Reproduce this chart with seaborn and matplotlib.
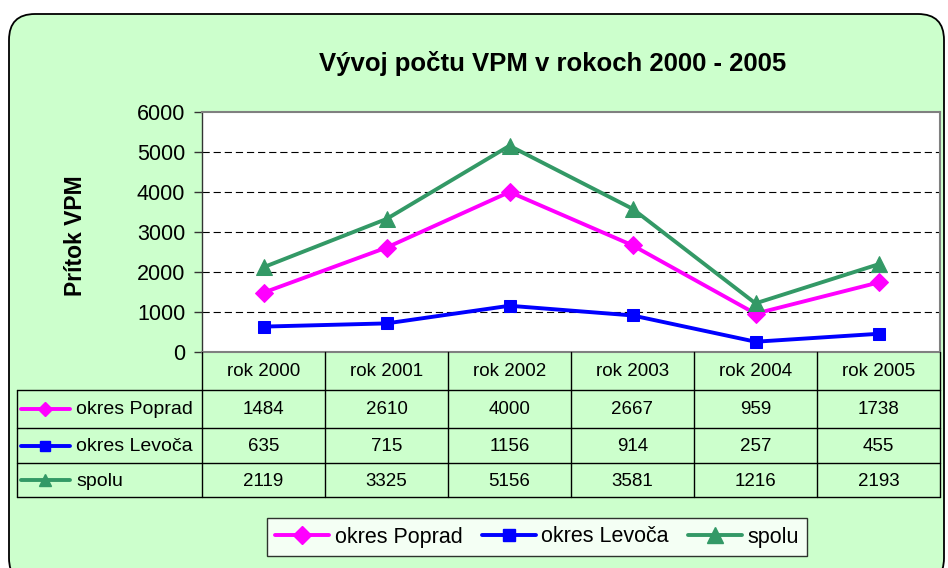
import numpy as np
import pandas as pd
import seaborn as sns
import matplotlib.pyplot as plt
from matplotlib.patches import FancyBboxPatch
from matplotlib.lines import Line2D

sns.set_style('white')
plt.rcParams['font.family'] = ['Liberation Sans', 'DejaVu Sans']
plt.rcParams['text.color'] = 'black'
plt.rcParams['ytick.color'] = 'black'

years = ['rok 2000', 'rok 2001', 'rok 2002', 'rok 2003', 'rok 2004', 'rok 2005']
series_names = ['okres Poprad', 'okres Levoča', 'spolu']
poprad = [1484, 2610, 4000, 2667, 959, 1738]
levoca = [635, 715, 1156, 914, 257, 455]
spolu = [2119, 3325, 5156, 3581, 1216, 2193]
y_ticks = [0, 1000, 2000, 3000, 4000, 5000, 6000]

colors = {'okres Poprad': '#FF00FF', 'okres Levoča': '#0000FF', 'spolu': '#339966'}
markers = {'okres Poprad': 'D', 'okres Levoča': 's', 'spolu': '^'}
msizes = {'okres Poprad': 9, 'okres Levoča': 8.5, 'spolu': 11}
bg = '#CCFFCC'

df = pd.DataFrame({
    'idx': list(range(len(years))) * 3,
    'value': poprad + levoca + spolu,
    'series': np.repeat(series_names, len(years)),
})

W, H = 948, 568
fig = plt.figure(figsize=(W / 100, H / 100), dpi=100)
fig.patch.set_facecolor('white')

# rounded green frame, pixel coords
frame_ax = fig.add_axes([0, 0, 1, 1], zorder=-5)
frame_ax.set_xlim(0, W)
frame_ax.set_ylim(H, 0)
frame_ax.axis('off')
frame_ax.add_patch(FancyBboxPatch((9, 14), 935, 570, boxstyle='round,pad=0,rounding_size=26',
                                  facecolor=bg, edgecolor='black', linewidth=1.3))

# plot area
px0, px1, py0, py1 = 202, 940, 112, 352
ax = fig.add_axes([px0 / W, 1 - py1 / H, (px1 - px0) / W, (py1 - py0) / H])
ax.set_facecolor('white')
for name in series_names:
    sns.lineplot(data=df[df['series'] == name], x='idx', y='value', color=colors[name],
                 marker=markers[name], markersize=msizes[name], markeredgecolor=colors[name],
                 linewidth=2.8, ax=ax, legend=False)
ax.set_xlim(-0.5, len(years) - 0.5)
ax.set_ylim(0, 6000)
ax.set_yticks(y_ticks)
ax.set_yticklabels([str(t) for t in y_ticks], fontsize=15.5)
ax.set_xticks([])
ax.set_xlabel('')
ax.set_ylabel('')
ax.tick_params(axis='y', direction='out', length=6, width=1, color='#333333', pad=6, left=True)
for t in y_ticks[1:-1]:
    ax.axhline(t, color='black', linestyle=(0, (6.5, 3.5)), linewidth=0.8, zorder=0)
for s in ['top', 'right', 'bottom']:
    ax.spines[s].set_color('#808080')
    ax.spines[s].set_linewidth(1.5)
ax.spines['left'].set_color('#333333')
ax.spines['left'].set_linewidth(1)

fig.text(553 / W, 1 - 64 / H, 'Vývoj počtu VPM v rokoch 2000 - 2005', ha='center', va='center',
         fontsize=18.5, fontweight='bold')
fig.text(76 / W, 1 - 236 / H, 'Prítok VPM', ha='center', va='center', rotation=90,
         fontsize=16.5, fontweight='bold')

# data table under the plot, pixel coords
tab = fig.add_axes([0, 0, 1, 1], zorder=2)
tab.set_xlim(0, W)
tab.set_ylim(H, 0)
tab.axis('off')
tab.patch.set_alpha(0)
col_w = (px1 - px0) / len(years)
row_y = [352, 390, 428, 463, 497]
lx0 = 17
lc = 'black'
for y in row_y[1:]:
    tab.plot([lx0, px1], [y, y], color=lc, lw=1)
tab.plot([lx0, lx0], [row_y[1], row_y[-1]], color=lc, lw=1)
for i in range(len(years) + 1):
    x = px0 + i * col_w
    tab.plot([x, x], [row_y[0], row_y[-1]], color=lc, lw=1)
for i, yr in enumerate(years):
    tab.text(px0 + (i + 0.5) * col_w, (row_y[0] + row_y[1]) / 2 + 1, yr, ha='center', va='center',
             fontsize=13.5)
for r, (name, vals) in enumerate(zip(series_names, [poprad, levoca, spolu])):
    yc = (row_y[r + 1] + row_y[r + 2]) / 2
    tab.plot([21, 70], [yc, yc], color=colors[name], lw=2.8)
    tab.plot([45], [yc], marker=markers[name], color=colors[name], markersize=msizes[name] - 2)
    tab.text(76, yc + 1, name, ha='left', va='center', fontsize=14)
    for i, v in enumerate(vals):
        tab.text(px0 + (i + 0.5) * col_w, yc + 1, str(v), ha='center', va='center', fontsize=13.5)

# legend
handles = [Line2D([0], [0], color=colors[n], lw=2.8, marker=markers[n], markersize=msizes[n])
           for n in series_names]
leg = fig.legend(handles, series_names, loc='center', bbox_to_anchor=(537 / W, 1 - 537 / H),
                 ncol=3, fontsize=15.5, frameon=True, fancybox=False, handlelength=2.5,
                 handletextpad=0.25, columnspacing=0.9, borderpad=0.4, edgecolor='black')
leg.get_frame().set_linewidth(1)

fig.savefig('out.png', dpi=100, facecolor=fig.get_facecolor())
